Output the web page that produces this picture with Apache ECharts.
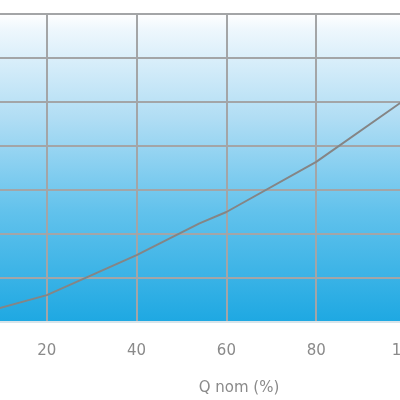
<!DOCTYPE html>
<html><head><meta charset="utf-8">
<script src="https://cdn.jsdelivr.net/npm/echarts@6/dist/echarts.min.js"></script>
<style>html,body{margin:0;padding:0;background:#fff}#c{width:400px;height:400px}</style>
</head><body><div id="c"></div>
<script>
const xValues = [0, 20, 40, 54, 60, 80, 100];
const yValues = [0.05, 0.61, 1.52, 2.24, 2.5, 3.64, 5.07];
const xTicks = [20, 40, 60, 80, 100];
const xTitle = 'Q nom (%)';

const chart = echarts.init(document.getElementById('c'));
chart.setOption({
  animation: false,
  grid: {
    left: -43, right: -6, top: 14, bottom: 78,
    outerBoundsMode: 'none', containLabel: false,
    show: true, borderWidth: 0,
    backgroundColor: new echarts.graphic.LinearGradient(0, 0, 0, 1, [
      {offset: 0, color: '#ffffff'},
      {offset: 0.05, color: '#eef7fd'},
      {offset: 0.34, color: '#b0ddf4'},
      {offset: 0.64, color: '#62c2ec'},
      {offset: 1, color: '#1ea8e2'}
    ])
  },
  xAxis: {
    type: 'value', min: 0, max: 100, interval: 20,
    axisLine: {show: true, lineStyle: {color: '#d8e4ea', width: 2}},
    axisTick: {show: false},
    axisLabel: {color: '#8a8a8a', fontSize: 15, margin: 22, fontFamily: 'DejaVu Sans',
      hideOverlap: false, showMinLabel: true, showMaxLabel: true,
      formatter: v => xTicks.includes(v) ? String(v) : ''},
    splitLine: {show: true, lineStyle: {color: '#a3a5a7', width: 2}}
  },
  yAxis: {
    type: 'value', min: 0, max: 7, interval: 1,
    axisLine: {show: false}, axisTick: {show: false}, axisLabel: {show: false},
    splitLine: {show: true, lineStyle: {color: '#a3a5a7', width: 2}}
  },
  graphic: [{
    type: 'text', x: 239, y: 388,
    style: {text: xTitle, fill: '#8a8a8a', font: '15px "DejaVu Sans"', textAlign: 'center', textVerticalAlign: 'middle'}
  }],
  series: [{
    type: 'line',
    data: xValues.map((x, i) => [x, yValues[i]]),
    showSymbol: false,
    lineStyle: {color: '#858585', width: 2}
  }]
});
</script></body></html>
